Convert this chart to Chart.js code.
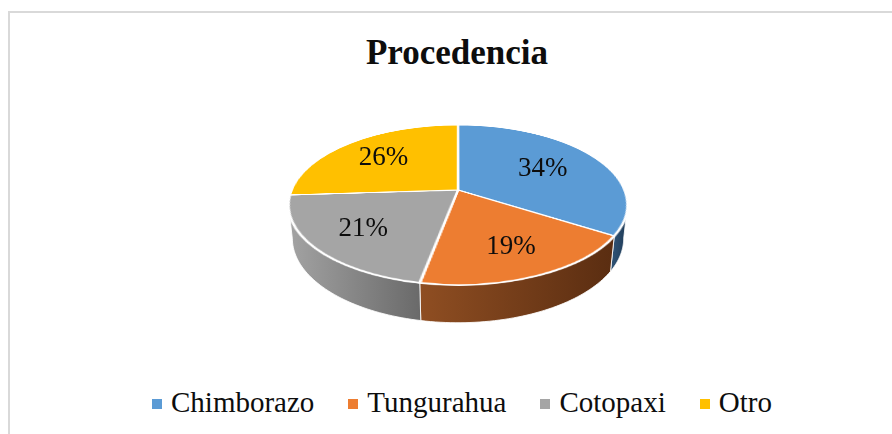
<!DOCTYPE html>
<html>
<head>
<meta charset="utf-8">
<script src="https://cdn.jsdelivr.net/npm/chart.js@4.4.1/dist/chart.umd.min.js"></script>
<style>
  body { margin: 0; background: #fff; }
  #wrap { position: relative; width: 892px; height: 434px; overflow: hidden; font-family: "Liberation Serif", "Times New Roman", serif; color: #0d0d0d; }
  #frame { position: absolute; left: 8px; top: 11px; width: 900px; height: 440px; border: 2px solid #d9d9d9; box-sizing: border-box; }
  #title { position: absolute; left: 0; width: 914px; top: 33px; text-align: center; font-weight: bold; font-size: 35px; line-height: 40px; }
  #legend { position: absolute; left: 152px; top: 384px; display: flex; align-items: center; font-size: 29px; line-height: 36px; white-space: nowrap; }
  #legend .item { display: flex; align-items: center; margin-right: 34px; }
  #legend .box { width: 10px; height: 10px; margin-right: 9px; margin-top: 3px; }
  canvas { position: absolute; left: 0; top: 0; }
  #walls { z-index: 1; }
  #pie { z-index: 2; }
  #labels { z-index: 3; }
</style>
</head>
<body>
<div id="wrap">
  <div id="frame"></div>
  <div id="title">Procedencia</div>
  <canvas id="walls" width="892" height="434"></canvas>
  <canvas id="pie" width="892" height="434"></canvas>
  <canvas id="labels" width="892" height="434"></canvas>
  <div id="legend"></div>
</div>
<script>
// data
const categories = ["Chimborazo", "Tungurahua", "Cotopaxi", "Otro"]
const shares = [34, 19, 21, 26]

// look
const topColors = ["#5b9bd5", "#ed7d31", "#a5a5a5", "#ffc000"]
const sideShades = [["#2d5072", "#1f3a55"], ["#8f4e22", "#5a2d11"], ["#a3a3a3", "#6a6a6a"], ["#b38600", "#7f6000"]]
const persp = 787                    // css perspective distance
const tiltDeg = 62.4                 // rotateX of the flat pie
const depth = 38                     // wall height, px before projection
const labelPush = 1.12               // labels a bit further out than the slice centroid

// legend built from the same arrays
const legendEl = document.getElementById("legend")
categories.forEach((name, i) => {
    const item = document.createElement("div")
    item.className = "item"
    item.innerHTML = '<span class="box" style="background:' + topColors[i] + '"></span>' + name
    legendEl.appendChild(item)
})

const pieCanvas = document.getElementById("pie")
pieCanvas.style.transform = "perspective(" + persp + "px) rotateX(" + tiltDeg + "deg)"

// same maths as the css transform: point on the flat pie (X, Y from centre), pushed down by `down`
const project = (ox, oy, X, Y, down) => {
    const a = tiltDeg * Math.PI / 180
    const y3 = Y * Math.cos(a) + down * Math.sin(a)
    const z3 = Y * Math.sin(a) - down * Math.cos(a)
    const k = persp / (persp - z3)
    return [ox + X * k, oy + y3 * k]
}

// walls under the tilted pie and the percent labels over it
const pie3d = {
    id: "pie3d",
    afterDraw(chart) {
        const arcs = chart.getDatasetMeta(0).data
        const ox = arcs[0].x, oy = arcs[0].y, R = arcs[0].outerRadius
        pieCanvas.style.transformOrigin = ox + "px " + oy + "px"

        const wctx = document.getElementById("walls").getContext("2d")
        const t0 = Math.asin(R * Math.sin(tiltDeg * Math.PI / 180) / persp)
        arcs.forEach((arc, i) => {
            const a = Math.max(arc.startAngle, t0)
            const b = Math.min(arc.endAngle, Math.PI - t0)
            if (b <= a) return
            const steps = 48
            const top = [], bottom = []
            for (let j = 0; j <= steps; j++) {
                const t = a + (b - a) * j / steps
                top.push(project(ox, oy, R * Math.cos(t), R * Math.sin(t), 0))
                bottom.push(project(ox, oy, R * Math.cos(t), R * Math.sin(t), depth))
            }
            const grad = wctx.createLinearGradient(top[steps][0], 0, top[0][0], 0)
            grad.addColorStop(0, sideShades[i][0])
            grad.addColorStop(1, sideShades[i][1])
            wctx.beginPath()
            top.forEach(p => wctx.lineTo(p[0], p[1]))
            bottom.reverse().forEach(p => wctx.lineTo(p[0], p[1]))
            wctx.closePath()
            wctx.fillStyle = grad
            wctx.fill()
            wctx.strokeStyle = "rgba(255,255,255,0.85)"
            wctx.lineWidth = 1
            wctx.stroke()
        })

        const lctx = document.getElementById("labels").getContext("2d")
        const total = shares.reduce((s, v) => s + v, 0)
        lctx.font = "27px 'Liberation Serif', 'Times New Roman', serif"
        lctx.fillStyle = "#0d0d0d"
        lctx.textAlign = "center"
        lctx.textBaseline = "middle"
        arcs.forEach((arc, i) => {
            const mid = (arc.startAngle + arc.endAngle) / 2
            const half = (arc.endAngle - arc.startAngle) / 2
            const r = R * 2 * Math.sin(half) / (3 * half) * labelPush
            const p = project(ox, oy, Math.cos(mid) * r, Math.sin(mid) * r, 0)
            lctx.fillText(Math.round(shares[i] / total * 100) + "%", p[0], p[1])
        })
    }
}

new Chart(pieCanvas, {
    type: "pie",
    data: {
        labels: categories,
        datasets: [{
            data: shares,
            backgroundColor: topColors,
            borderColor: "#ffffff",
            borderWidth: 2.5,
            radius: 166.5
        }]
    },
    options: {
        responsive: false,
        animation: false,
        events: [],
        layout: { padding: { left: 288, right: 264, top: 20, bottom: 74 } },
        plugins: {
            legend: { display: false },
            title: { display: false },
            tooltip: { enabled: false }
        }
    },
    plugins: [pie3d]
})
</script>
</body>
</html>
